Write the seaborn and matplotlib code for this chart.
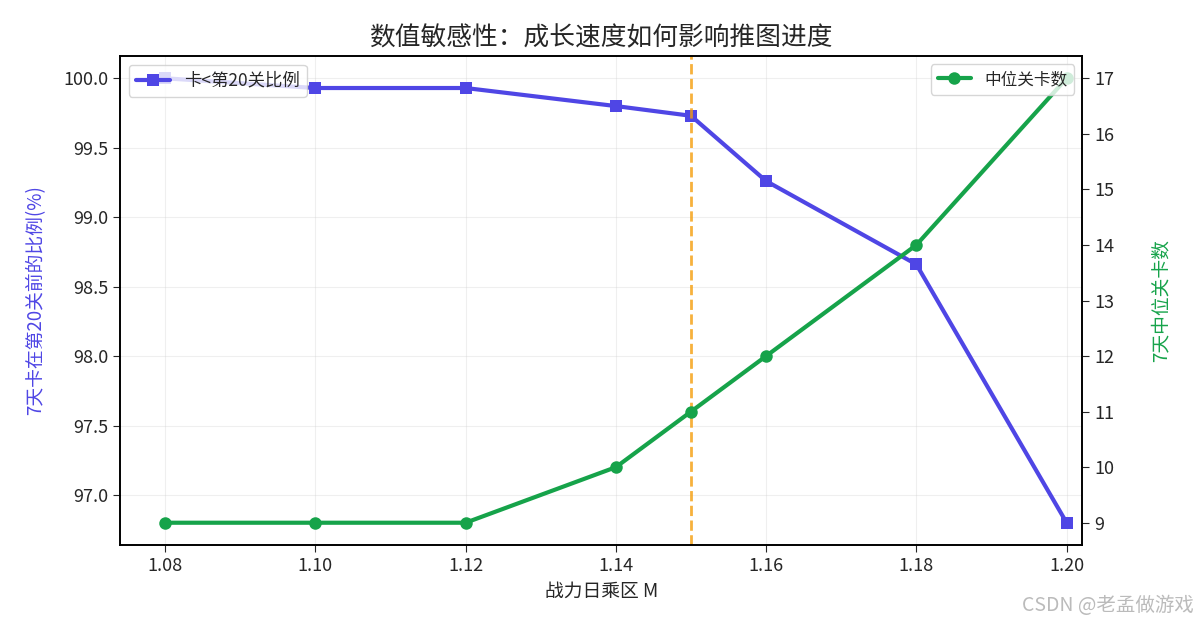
import matplotlib
matplotlib.use("Agg")
import matplotlib.pyplot as plt
import seaborn as sns
import pandas as pd

sns.set_style("white")
plt.rcParams['font.family'] = ['Noto Sans CJK SC', 'DejaVu Sans']
plt.rcParams['axes.unicode_minus'] = False

m_values = [1.08, 1.10, 1.12, 1.14, 1.15, 1.16, 1.18, 1.20]
stuck_pct = [100.0, 99.93, 99.93, 99.80, 99.73, 99.26, 98.66, 96.80]
median_m = [1.08, 1.10, 1.12, 1.14, 1.15, 1.16, 1.18, 1.20]
median_level = [9, 9, 9, 10, 11, 12, 14, 17]
m_mark = 1.15
x_ticks = [1.08, 1.10, 1.12, 1.14, 1.16, 1.18, 1.20]

blue = '#4F46E5'
green = '#16A34A'
orange = '#F59E0B'

df1 = pd.DataFrame({'M': m_values, 'pct': stuck_pct})
df2 = pd.DataFrame({'M': median_m, 'level': median_level})

fig, ax1 = plt.subplots(figsize=(12, 6.3), dpi=100)
ax2 = ax1.twinx()

sns.lineplot(data=df1, x='M', y='pct', ax=ax1, color=blue, marker='s',
             markersize=8, markeredgewidth=0, linewidth=3, label='卡<第20关比例')
sns.lineplot(data=df2, x='M', y='level', ax=ax2, color=green, marker='o',
             markersize=9, markeredgewidth=0, linewidth=3, label='中位关卡数')

ax1.axvline(m_mark, color=orange, linestyle='--', linewidth=2, alpha=0.8)

ax1.set_xticks(x_ticks)
ax1.set_xticklabels([f'{v:.2f}' for v in x_ticks])
ax1.set_xlim(1.074, 1.2021)
ax1.tick_params(labelsize=13, length=5)
ax2.tick_params(labelsize=13, length=5)
ax1.grid(True, alpha=0.3)
ax1.set_xlabel('战力日乘区 M', fontsize=13.5)
ax1.set_ylabel('7天卡在第20关前的比例(%)', color=blue, fontsize=13.5, labelpad=12)
ax2.set_ylabel('7天中位关卡数', color=green, fontsize=13.5, labelpad=26)
ax1.set_title('数值敏感性：成长速度如何影响推图进度', fontsize=18.5, pad=8)

ax1.legend(loc='upper left', fontsize=12.5)
ax2.legend(loc='upper right', fontsize=12)

for ax in (ax1, ax2):
    for s in ax.spines.values():
        s.set_color('black')
        s.set_linewidth(1.2)
ax1.tick_params(left=True, bottom=True)
ax2.tick_params(right=True)

fig.subplots_adjust(left=0.1, right=0.902, top=0.911, bottom=0.135)
fig.text(0.995, 0.022, 'CSDN @老孟做游戏', ha='right', va='bottom',
         fontsize=14, color='#bbbbbb')
fig.savefig('out.png', dpi=100)
